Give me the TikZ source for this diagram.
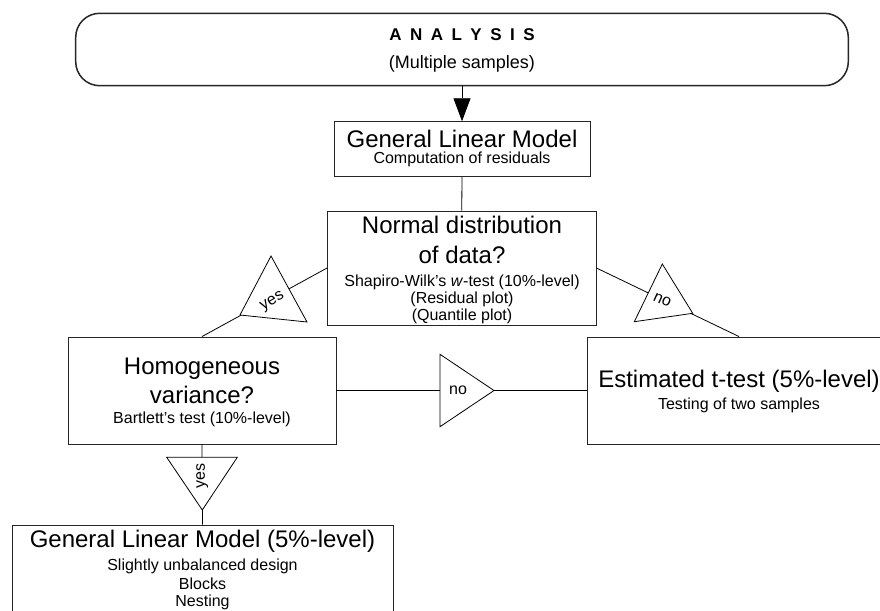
\documentclass[tikz,border=0pt]{standalone}
\usepackage{fontspec}
\setmainfont{Liberation Sans}
\usetikzlibrary{arrows.meta}
\tikzset{
  boxnode/.style={draw=black!85, line width=0.9pt, rectangle, inner sep=0pt},
  titletext/.style={font=\fontsize{24}{28}\selectfont, anchor=base, inner sep=0pt},
  subtext/.style={font=\fontsize{16}{19}\selectfont, anchor=base, inner sep=0pt},
  labeltext/.style={font=\fontsize{16}{19}\selectfont, inner sep=0pt},
  conn/.style={draw=black, line width=0.8pt},
  tri/.style={draw=black, line width=0.8pt, fill=white, line join=miter},
}
\begin{document}
\begin{tikzpicture}[x=1pt,y=-1pt]
\useasboundingbox (0,0) rectangle (880,610);
\fill[white] (0,0) rectangle (880,610);
\clip (0,0) rectangle (880,610);

% boxes
\node[boxnode, line width=1.5pt, rounded corners=24pt, minimum width=772.6pt, minimum height=72.4pt] (top) at (462,49.5) {};
\node[boxnode, minimum width=256pt, minimum height=55pt] (glm) at (462,149.2) {};
\node[boxnode, minimum width=268.5pt, minimum height=114pt] (normal) at (461.75,268) {};
\node[boxnode, minimum width=268pt, minimum height=107pt] (homog) at (202,390.5) {};
\node[boxnode, minimum width=304pt, minimum height=107pt] (est) at (739,390.5) {};
\node[boxnode, minimum width=381pt, minimum height=95pt] (final) at (202.5,572.5) {};

% texts
\node[subtext, font=\fontsize{17}{20}\selectfont\bfseries] (t1) at (462,41)
  {A\hspace{8.5pt}N\hspace{8.5pt}A\hspace{8.5pt}L\hspace{8.5pt}Y\hspace{8.5pt}S\hspace{8.5pt}I\hspace{8.5pt}S};
\node[subtext, font=\fontsize{18}{21}\selectfont] (t2) at (462,68) {(Multiple samples)};

\node[titletext] (t3) at (462,147) {General Linear Model};
\node[subtext] (t4) at (462,163) {Computation of residuals};

\node[titletext] (t5) at (462,233) {Normal distribution};
\node[titletext] (t6) at (462,263) {of data?};
\node[subtext] (t7) at (462,286) {Shapiro-Wilk's \textit{w}-test (10\%-level)};
\node[subtext] (t8) at (462,303.3) {(Residual plot)};
\node[subtext] (t9) at (462,320.5) {(Quantile plot)};

\node[titletext] (t10) at (202,374) {Homogeneous};
\node[titletext] (t11) at (202,403.3) {variance?};
\node[subtext] (t12) at (202,423.3) {Bartlett's test (10\%-level)};

\node[titletext] (t13) at (739,387.7) {Estimated t-test (5\%-level)};
\node[subtext] (t14) at (739,409.3) {Testing of two samples};

\node[titletext] (t15) at (202.5,547.7) {General Linear Model (5\%-level)};
\node[subtext] (t16) at (202.5,570) {Slightly unbalanced design};
\node[subtext] (t17) at (202.5,589.3) {Blocks};
\node[subtext] (t18) at (202.5,606.7) {Nesting};

% connectors
\draw[conn, -{Triangle[width=17pt,length=23pt]}] (top.south) -- (glm.north);
\draw[conn] (glm.south) -- (normal.north);
\draw[conn] (normal.west) -- (homog.north);
\draw[conn] (normal.east) -- (est.north);
\draw[conn] (homog.east) -- (est.west);
\draw[conn] (homog.south) -- (final.north);

% label triangles
\draw[tri] (271,256) -- (240,315) -- (307,322) -- cycle;
\node[labeltext, rotate=30] (l1) at (272.7,301.7) {yes};

\draw[tri] (662.3,264) -- (634.3,321.7) -- (692.7,313.3) -- cycle;
\node[labeltext, rotate=-25] (l2) at (662.3,300) {no};

\draw[tri] (440,354.3) -- (440,426.7) -- (494,390.5) -- cycle;
\node[labeltext] (l3) at (458,390.5) {no};

\draw[tri] (166.7,457.3) -- (237.3,457.3) -- (202.3,510) -- cycle;
\node[labeltext, rotate=90] (l4) at (202.3,476) {yes};
\end{tikzpicture}
\end{document}
